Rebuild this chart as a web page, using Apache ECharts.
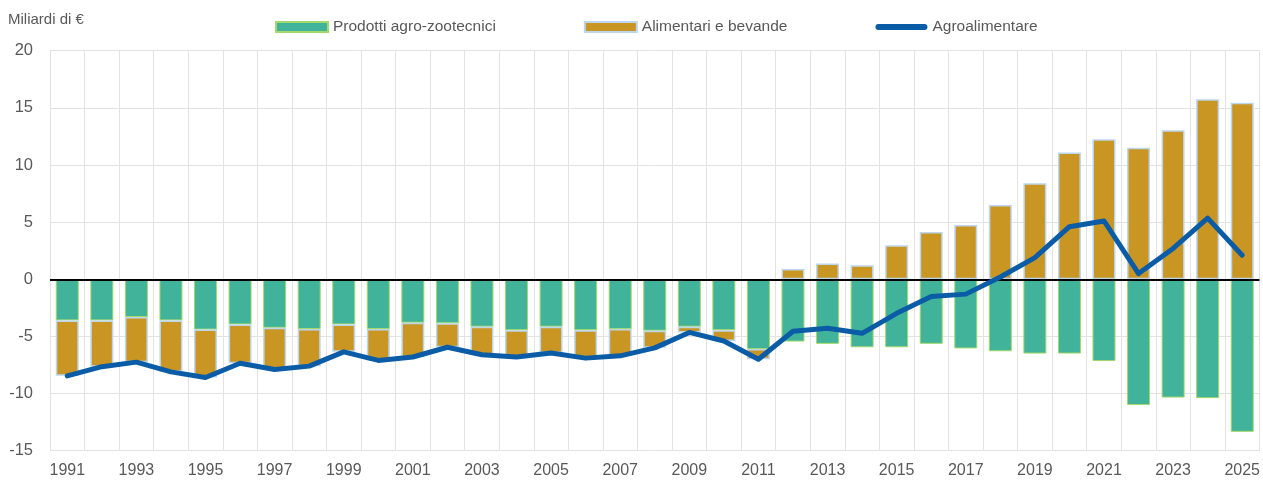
<!DOCTYPE html>
<html>
<head>
<meta charset="utf-8">
<title>Bilancia agroalimentare</title>
<script src="https://cdn.jsdelivr.net/npm/echarts@6/dist/echarts.min.js"></script>
<style>
  html, body { margin: 0; padding: 0; background: #fff; }
  #chart { width: 1263px; height: 482px; }
</style>
</head>
<body>
<div id="chart"></div>
<script>
// anni 1991-2025
const years = [];
for (let y = 1991; y <= 2025; y++) years.push(String(y));

// saldo prodotti agro-zootecnici (miliardi di €)
const agroZoo = [
  -3.6, -3.6, -3.3, -3.6, -4.4, -3.95, -4.25, -4.35, -3.95, -4.35,
  -3.8, -3.85, -4.15, -4.45, -4.15, -4.45, -4.35, -4.5, -4.15, -4.45,
  -6.1, -5.45, -5.65, -5.95, -5.95, -5.65, -6.05, -6.3, -6.5, -6.5,
  -7.15, -11.0, -10.35, -10.4, -13.35
];

// saldo alimentari e bevande
const alimentari = [
  -4.85, -4.05, -3.95, -4.5, -4.2, -3.4, -3.65, -3.25, -2.4, -2.75,
  -3.0, -2.1, -2.45, -2.35, -2.3, -2.45, -2.35, -1.5, -0.5, -0.95,
  -0.9, 0.9, 1.37, 1.22, 2.97, 4.14, 4.75, 6.5, 8.4, 11.1,
  12.25, 11.5, 13.05, 15.75, 15.45
];

// saldo agroalimentare complessivo
const agroalimentare = [
  -8.45, -7.65, -7.25, -8.1, -8.6, -7.35, -7.9, -7.6, -6.35, -7.1,
  -6.8, -5.95, -6.6, -6.8, -6.45, -6.9, -6.7, -6.0, -4.65, -5.4,
  -7.0, -4.55, -4.28, -4.73, -2.98, -1.51, -1.3, 0.2, 1.9, 4.6,
  5.1, 0.5, 2.7, 5.35, 2.1
];

const yTicks = [-15, -10, -5, 0, 5, 10, 15, 20];

const FONT = "'Liberation Sans', Arial, sans-serif";
const TXT = '#595959';

const chart = echarts.init(document.getElementById('chart'), null, { renderer: 'canvas' });

chart.setOption({
  animation: false,
  backgroundColor: '#fff',
  textStyle: { fontFamily: FONT, color: TXT },
  graphic: [{
    type: 'text', left: 8, top: 12,
    style: { text: 'Miliardi di €', fill: TXT, font: '15px ' + FONT }
  }],
  legend: {
    left: 270, top: 14,
    itemWidth: 52, itemHeight: 10, itemGap: 88,
    textStyle: { fontFamily: FONT, fontSize: 15.5, color: TXT },
    data: [
      { name: 'Prodotti agro-zootecnici', icon: 'rect' },
      { name: 'Alimentari e bevande', icon: 'rect' },
      {
        name: 'Agroalimentare',
        icon: 'path://M3,0 L49,0 A3,3 0 0 1 49,6 L3,6 A3,3 0 0 1 3,0 Z',
        itemStyle: { color: '#0b5ca6' }
      }
    ]
  },
  grid: { left: 50, right: 2, top: 50.7, bottom: 31.3, containLabel: false },
  xAxis: {
    type: 'category',
    data: years,
    axisLine: { show: false },
    axisTick: { show: false },
    axisLabel: { interval: 1, color: TXT, fontFamily: FONT, fontSize: 16, margin: 12 },
    splitLine: { show: true, interval: 0, lineStyle: { color: '#e3e3e3', width: 1 } }
  },
  yAxis: {
    type: 'value',
    min: yTicks[0], max: yTicks[yTicks.length - 1], interval: 5,
    axisLine: { show: false },
    axisTick: { show: false },
    axisLabel: { color: TXT, fontFamily: FONT, fontSize: 16.5, margin: 17 },
    splitLine: { lineStyle: { color: '#e3e3e3', width: 1 } }
  },
  series: [
    {
      name: 'Prodotti agro-zootecnici', type: 'bar', stack: 'saldo',
      barWidth: 23,
      itemStyle: { color: '#41b39a', borderColor: '#a3d86a', borderWidth: 1 },
      data: agroZoo
    },
    {
      name: 'Alimentari e bevande', type: 'bar', stack: 'saldo',
      barWidth: 23,
      itemStyle: { color: '#c99623', borderColor: '#bcd6ee', borderWidth: 1.5 },
      data: alimentari,
      // linea dello zero sopra le barre
      markLine: {
        silent: true, symbol: 'none', z: 3,
        label: { show: false },
        lineStyle: { color: '#000', width: 2, type: 'solid' },
        data: [{ yAxis: 0 }]
      }
    },
    {
      name: 'Agroalimentare', type: 'line', z: 5,
      symbol: 'none', smooth: false,
      lineStyle: { color: '#0b5ca6', width: 5, cap: 'round', join: 'round' },
      itemStyle: { color: '#0b5ca6' },
      data: agroalimentare
    }
  ]
});
</script>
</body>
</html>
